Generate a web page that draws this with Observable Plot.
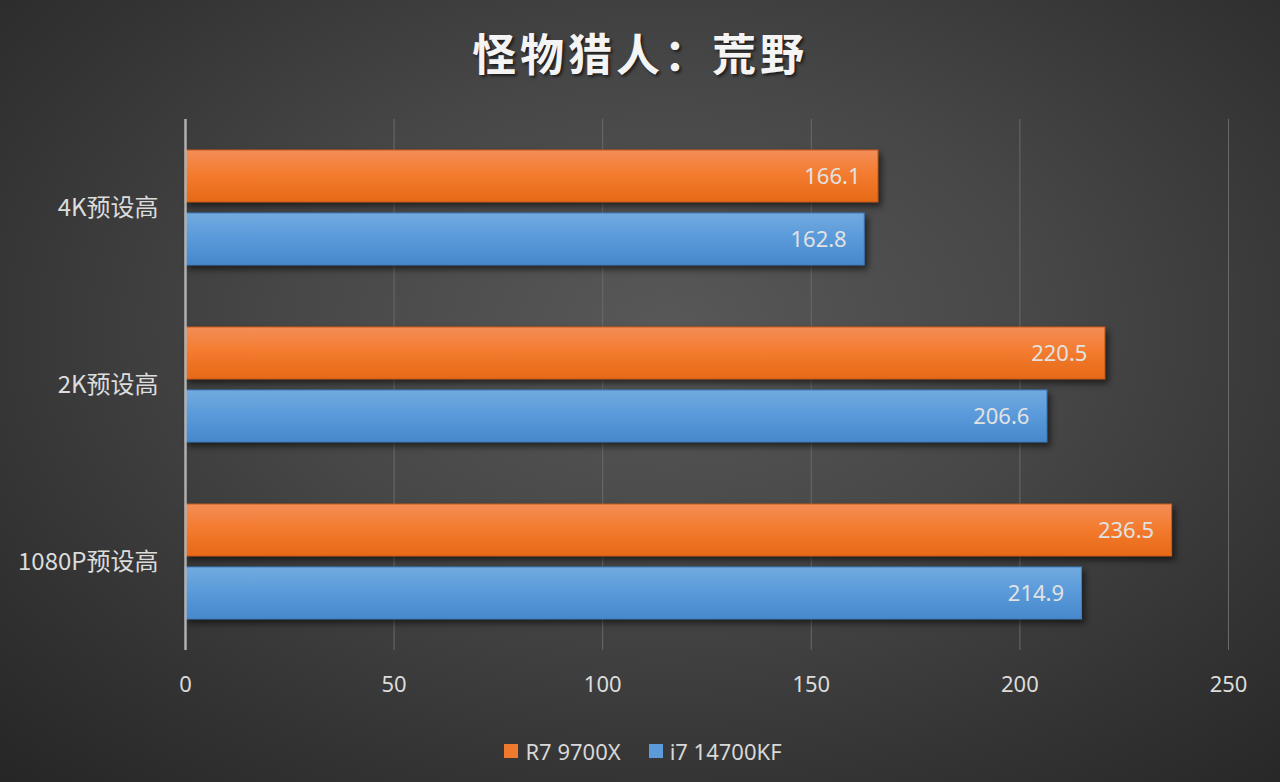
<!DOCTYPE html>
<html>
<head>
<meta charset="utf-8">
<script src="https://cdn.jsdelivr.net/npm/d3@7"></script>
<script src="https://cdn.jsdelivr.net/npm/@observablehq/plot@0.6"></script>
<style>
  html, body { margin: 0; padding: 0; }
  body {
    width: 1280px; height: 782px; overflow: hidden;
    background: radial-gradient(ellipse 75% 80% at 52% 42%, #585858 0%, #474747 40%, #333333 75%, #262626 100%);
    font-family: "Noto Sans CJK SC", "Noto Sans", sans-serif;
  }
  #title {
    height: 100px; box-sizing: border-box; padding-top: 22px;
    text-align: center; color: #f4f4f4; font-size: 44px; font-weight: bold;
    letter-spacing: 4px; line-height: 60px;
    text-shadow: 2px 2px 3px rgba(0,0,0,0.6);
  }
  #chart svg { display: block; background: transparent; overflow: visible; }
  #chart g[aria-label="bar"] rect { filter: drop-shadow(3px 4px 3px rgba(0,0,0,0.55)); }
  #legend {
    height: 62px; display: flex; justify-content: center; align-items: center;
    color: #d8d8d8; font-size: 22px; gap: 28px; padding-left: 6px;
    font-family: "Noto Sans", sans-serif;
  }
  #legend .item { display: flex; align-items: center; gap: 7px; }
  #legend .sw { width: 14px; height: 14px; display: inline-block; }
</style>
</head>
<body>
<div id="title">怪物猎人：荒野</div>
<div id="chart"></div>
<div id="legend"></div>
<script>
const categories = ["4K预设高", "2K预设高", "1080P预设高"];
const series = ["R7 9700X", "i7 14700KF"];
const r7Values = [166.1, 220.5, 236.5];
const i7Values = [162.8, 206.6, 214.9];
const xTicks = [0, 50, 100, 150, 200, 250];
const seriesColors = ["#ef7a2e", "#5b9bd9"];

const data = [];
categories.forEach((c, i) => {
  data.push({cat: c, series: series[0], value: r7Values[i]});
  data.push({cat: c, series: series[1], value: i7Values[i]});
});

const plot = Plot.plot({
  width: 1280,
  height: 620,
  marginTop: 18,
  marginBottom: 69,
  marginLeft: 185,
  marginRight: 52,
  style: {background: "transparent", color: "#dcdcdc"},
  x: {domain: [0, 250], axis: null},
  y: {domain: series, axis: null, paddingInner: 0.175, paddingOuter: 0.49},
  fy: {domain: categories, padding: 0, axis: null},
  color: {domain: series, range: ["url(#gradO)", "url(#gradB)"]},
  marks: [
    Plot.gridX(xTicks.slice(1), {stroke: "#6a6a6a", strokeOpacity: 1, strokeWidth: 1}),
    Plot.barX(data, {x: "value", y: "series", fy: "cat", fill: "series",
      stroke: d => d.series === series[0] ? "#c85d18" : "#3f7fbf", strokeWidth: 1}),
    Plot.ruleX([0], {stroke: "#b0b0b0", strokeWidth: 2.5}),
    Plot.text(data, {x: "value", y: "series", fy: "cat", text: d => d.value.toFixed(1),
      textAnchor: "end", dx: -18, fill: "#e2e2e2", fontSize: 22,
      fontFamily: "'Noto Sans', sans-serif"}),
    Plot.axisFy({anchor: "left", tickSize: 0, tickPadding: 27, fontSize: 24, fill: "#dcdcdc",
      fontFamily: "'Noto Sans CJK SC', sans-serif", label: null}),
    Plot.axisX(xTicks, {anchor: "bottom", tickSize: 0, tickPadding: 26, fontSize: 22, fill: "#dcdcdc",
      label: null, fontFamily: "'Noto Sans', sans-serif"})
  ]
});

// gradients for bars
const svg = d3.select(plot);
const defs = svg.insert("defs", ":first-child");
const gO = defs.append("linearGradient").attr("id", "gradO").attr("x1", 0).attr("y1", 0).attr("x2", 0).attr("y2", 1);
gO.append("stop").attr("offset", "0%").attr("stop-color", "#f38d58");
gO.append("stop").attr("offset", "45%").attr("stop-color", "#f47c30");
gO.append("stop").attr("offset", "100%").attr("stop-color", "#e66916");
const gB = defs.append("linearGradient").attr("id", "gradB").attr("x1", 0).attr("y1", 0).attr("x2", 0).attr("y2", 1);
gB.append("stop").attr("offset", "0%").attr("stop-color", "#72aade");
gB.append("stop").attr("offset", "45%").attr("stop-color", "#5b9bdb");
gB.append("stop").attr("offset", "100%").attr("stop-color", "#4688cb");

document.getElementById("chart").appendChild(plot);

const legend = document.getElementById("legend");
series.forEach((s, i) => {
  const it = document.createElement("div");
  it.className = "item";
  const sw = document.createElement("span");
  sw.className = "sw";
  sw.style.background = seriesColors[i];
  const t = document.createElement("span");
  t.textContent = s;
  it.appendChild(sw); it.appendChild(t);
  legend.appendChild(it);
});
</script>
</body>
</html>
